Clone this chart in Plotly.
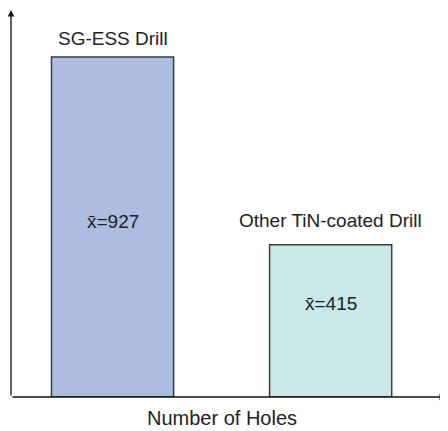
import plotly.graph_objects as go

categories = ["SG-ESS Drill", "Other TiN-coated Drill"]
mean_holes = [927, 415]
mean_labels = ["x\u0304=927", "x\u0304=415"]
bar_colors = ["#adbde2", "#c8e7e5"]
x_pos = [0, 1]

# label placement (pixels)
top_label_shift = [6, 12]
inner_label_shift = [5, 17]

FONT = "Liberation Sans, Arial"

fig = go.Figure()
fig.add_trace(go.Bar(
    x=x_pos, y=mean_holes, width=0.56,
    marker=dict(color=bar_colors, line=dict(color="#3a3a3a", width=1.5)),
    hoverinfo="skip", showlegend=False,
))

annotations = []
for i, (xp, v, cat, lab) in enumerate(zip(x_pos, mean_holes, categories, mean_labels)):
    annotations.append(dict(x=xp, y=v, xref="x", yref="y", text=cat, showarrow=False,
                            yanchor="bottom", yshift=top_label_shift[i],
                            font=dict(family=FONT, size=19, color="#222")))
    annotations.append(dict(x=xp, y=v / 2, xref="x", yref="y", text=lab, showarrow=False,
                            yanchor="middle", yshift=inner_label_shift[i],
                            font=dict(family=FONT, size=19, color="#222")))

# axis title
annotations.append(dict(x=0.5, y=0, xref="x", yref="paper", text="Number of Holes",
                        showarrow=False, yanchor="top", yshift=-8,
                        font=dict(family=FONT, size=20, color="#222")))
# axis arrows
annotations.append(dict(x=0, y=1, xref="x domain", yref="y domain", ax=0, ay=0,
                        axref="x domain", ayref="y domain", showarrow=True, arrowhead=2,
                        arrowsize=1, arrowwidth=1.3, arrowcolor="#111", standoff=0, text=""))
annotations.append(dict(x=1, y=0, xref="x domain", yref="y domain", ax=0, ay=0,
                        axref="x domain", ayref="y domain", showarrow=True, arrowhead=2,
                        arrowsize=1, arrowwidth=1.3, arrowcolor="#111", standoff=0, text=""))

fig.update_layout(
    width=440, height=423,
    margin=dict(l=3, r=2, t=2, b=34),
    paper_bgcolor="white", plot_bgcolor="white",
    annotations=annotations,
    xaxis=dict(range=[-0.4656, 1.529], showgrid=False, zeroline=False,
               showticklabels=False, ticks="", showline=False),
    yaxis=dict(range=[0, 1055], showgrid=False, zeroline=False,
               showticklabels=False, ticks="", showline=False),
)

fig.write_html("out.html")
